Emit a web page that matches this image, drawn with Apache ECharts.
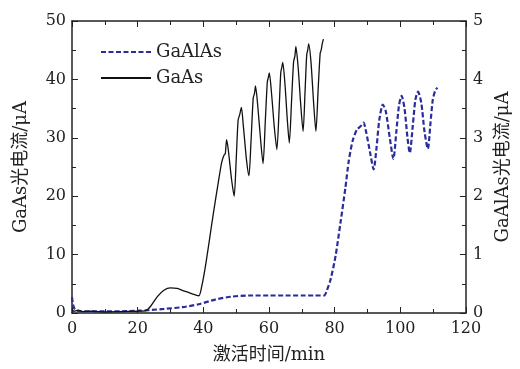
<!DOCTYPE html>
<html>
<head>
<meta charset="utf-8">
<script src="https://cdn.jsdelivr.net/npm/echarts@6/dist/echarts.min.js"></script>
<style>
  html, body { margin: 0; padding: 0; background: #fff; }
  #chart { width: 520px; height: 369px; }
</style>
</head>
<body>
<div id="chart"></div>
<script>
// Activation time (min) and photocurrent samples for each cathode
const gaasTime = [0, 0.6, 2, 3, 6, 10, 15, 20, 22.5, 24, 26, 28, 30, 32, 34, 36, 38.6,
  39.5, 40.5, 41.6, 43.1, 44.6, 45.6, 46.3, 46.7, 47.1, 47.6, 48.6, 49.4,
  50.0, 50.6, 51.1, 51.6, 52.2, 53.2, 53.9,
  54.5, 55.2, 55.6, 55.9, 56.5, 57.4, 58.2,
  58.9, 59.5, 59.8, 60.1, 60.8, 61.6, 62.4,
  63.1, 63.6, 63.9, 64.2, 64.9, 65.6, 66.2,
  66.9, 67.5, 67.9, 68.2, 68.9, 69.7, 70.4,
  71.0, 71.5, 71.8, 72.1, 72.8, 73.6, 74.3,
  75.0, 75.6, 75.9, 76.3, 76.6];
const gaasCurrent = [0.6, 0.3, 0.5, 0.25, 0.3, 0.2, 0.25, 0.3, 0.4, 1.2, 2.8, 3.9, 4.3, 4.2, 3.8, 3.4, 2.95,
  4.5, 7.5, 11.5, 17.2, 22.5, 25.8, 27.0, 27.3, 29.7, 28.0, 22.9, 20.0,
  26.0, 33.0, 34.0, 35.2, 32.0, 26.0, 23.5,
  29.0, 36.8, 37.6, 38.9, 36.0, 30.0, 25.6,
  33.0, 39.6, 40.3, 41.1, 37.5, 32.0, 28.0,
  35.0, 41.2, 42.0, 42.9, 39.0, 33.0, 29.1,
  36.5, 43.0, 44.0, 45.6, 42.0, 35.5, 31.1,
  38.0, 44.2, 45.0, 46.1, 43.0, 36.0, 31.1,
  38.5, 44.5, 45.0, 46.3, 46.9];

const gaalasTime = [0, 0.3, 0.7, 1.5, 3, 6, 10, 15, 20, 23.5, 28, 33.6, 38.6, 43.6, 48.6, 53.7,
  60, 65, 70, 74, 76.8, 77.6, 78.8, 80.3, 81.8, 83.3, 84.3, 85.5, 86.8, 88.0, 88.8,
  89.6, 90.8, 91.9, 92.8, 93.6, 94.7, 95.6, 96.8, 97.9, 98.8, 99.6, 100.4,
  101.3, 102.2, 102.9, 103.8, 104.6, 105.4, 106.4, 107.4, 108.4, 109.2, 109.9, 110.6, 111.3];
const gaalasCurrent = [0.27, 0.15, 0.08, 0.04, 0.03, 0.03, 0.03, 0.03, 0.04, 0.05, 0.07, 0.10, 0.15, 0.23, 0.28, 0.30,
  0.30, 0.30, 0.30, 0.30, 0.30, 0.38, 0.58, 0.98, 1.55, 2.15, 2.60, 2.95, 3.14, 3.20, 3.26,
  3.10, 2.75, 2.46, 2.85, 3.30, 3.57, 3.45, 3.00, 2.64, 3.10, 3.55, 3.72,
  3.50, 3.00, 2.74, 3.20, 3.65, 3.79, 3.60, 3.10, 2.81, 3.25, 3.65, 3.80, 3.86];

const xTicks = { min: 0, max: 120, interval: 20 };
const leftTicks = { min: 0, max: 50, interval: 10 };
const rightTicks = { min: 0, max: 5, interval: 1 };

const seriesNames = ['GaAlAs', 'GaAs'];
const xName = '激活时间/min';
const leftName = 'GaAs光电流/μA';
const rightName = 'GaAlAs光电流/μA';

const FONT = '"DejaVu Serif", "Noto Sans CJK SC", serif';
const INK = '#222';

const pairs = (xs, ys) => xs.map((x, i) => [x, ys[i]]);

const axisCommon = {
  axisLine: { show: true, onZero: false, lineStyle: { color: INK, width: 1.5 } },
  axisTick: { show: true, inside: true, length: 6, lineStyle: { color: INK, width: 1 } },
  minorTick: { show: true, splitNumber: 2, length: 4, lineStyle: { color: INK, width: 1 } },
  splitLine: { show: false },
  axisLabel: { color: INK, fontFamily: FONT, fontSize: 16 },
  nameTextStyle: { color: INK, fontFamily: FONT, fontSize: 18 }
};

const chart = echarts.init(document.getElementById('chart'), null, { renderer: 'canvas' });

chart.setOption({
  animation: false,
  backgroundColor: '#fff',
  grid: { left: 72, right: 50, top: 21, bottom: 55, containLabel: false },
  legend: {
    data: seriesNames,
    orient: 'vertical',
    left: 95,
    top: 38,
    itemWidth: 50,
    itemHeight: 14,
    itemGap: 8,
    // line-only keys: hide the marker dot drawn over the line sample
    itemStyle: { color: 'transparent', borderColor: 'transparent', borderWidth: 0, opacity: 0 },
    textStyle: { color: INK, fontFamily: FONT, fontSize: 18 }
  },
  xAxis: [
    Object.assign({}, axisCommon, {
      type: 'value', position: 'bottom',
      min: xTicks.min, max: xTicks.max, interval: xTicks.interval,
      name: xName, nameLocation: 'middle', nameGap: 33,
      axisLabel: Object.assign({}, axisCommon.axisLabel, { margin: 8 })
    }),
    Object.assign({}, axisCommon, {
      type: 'value', position: 'top',
      min: xTicks.min, max: xTicks.max, interval: xTicks.interval,
      axisLabel: { show: false }
    })
  ],
  yAxis: [
    Object.assign({}, axisCommon, {
      type: 'value', position: 'left',
      min: leftTicks.min, max: leftTicks.max, interval: leftTicks.interval,
      name: leftName, nameLocation: 'middle', nameGap: 42,
      axisLabel: Object.assign({}, axisCommon.axisLabel, { margin: 6 })
    }),
    Object.assign({}, axisCommon, {
      type: 'value', position: 'right',
      min: rightTicks.min, max: rightTicks.max, interval: rightTicks.interval,
      name: rightName, nameLocation: 'middle', nameGap: 26, nameRotate: 90,
      axisLabel: Object.assign({}, axisCommon.axisLabel, { margin: 7 })
    })
  ],
  series: [
    {
      name: seriesNames[0], type: 'line', xAxisIndex: 0, yAxisIndex: 1,
      data: pairs(gaalasTime, gaalasCurrent),
      showSymbol: false, symbol: 'none', smooth: 0.25,
      lineStyle: { color: '#2a2c9c', width: 2.2, type: [5, 2.5] },
      itemStyle: { color: '#2a2c9c' },
      z: 2
    },
    {
      name: seriesNames[1], type: 'line', xAxisIndex: 0, yAxisIndex: 0,
      data: pairs(gaasTime, gaasCurrent),
      showSymbol: false, symbol: 'none', smooth: 0.25,
      lineStyle: { color: '#111', width: 1.3 },
      itemStyle: { color: '#111' },
      z: 3
    }
  ]
});
</script>
</body>
</html>
